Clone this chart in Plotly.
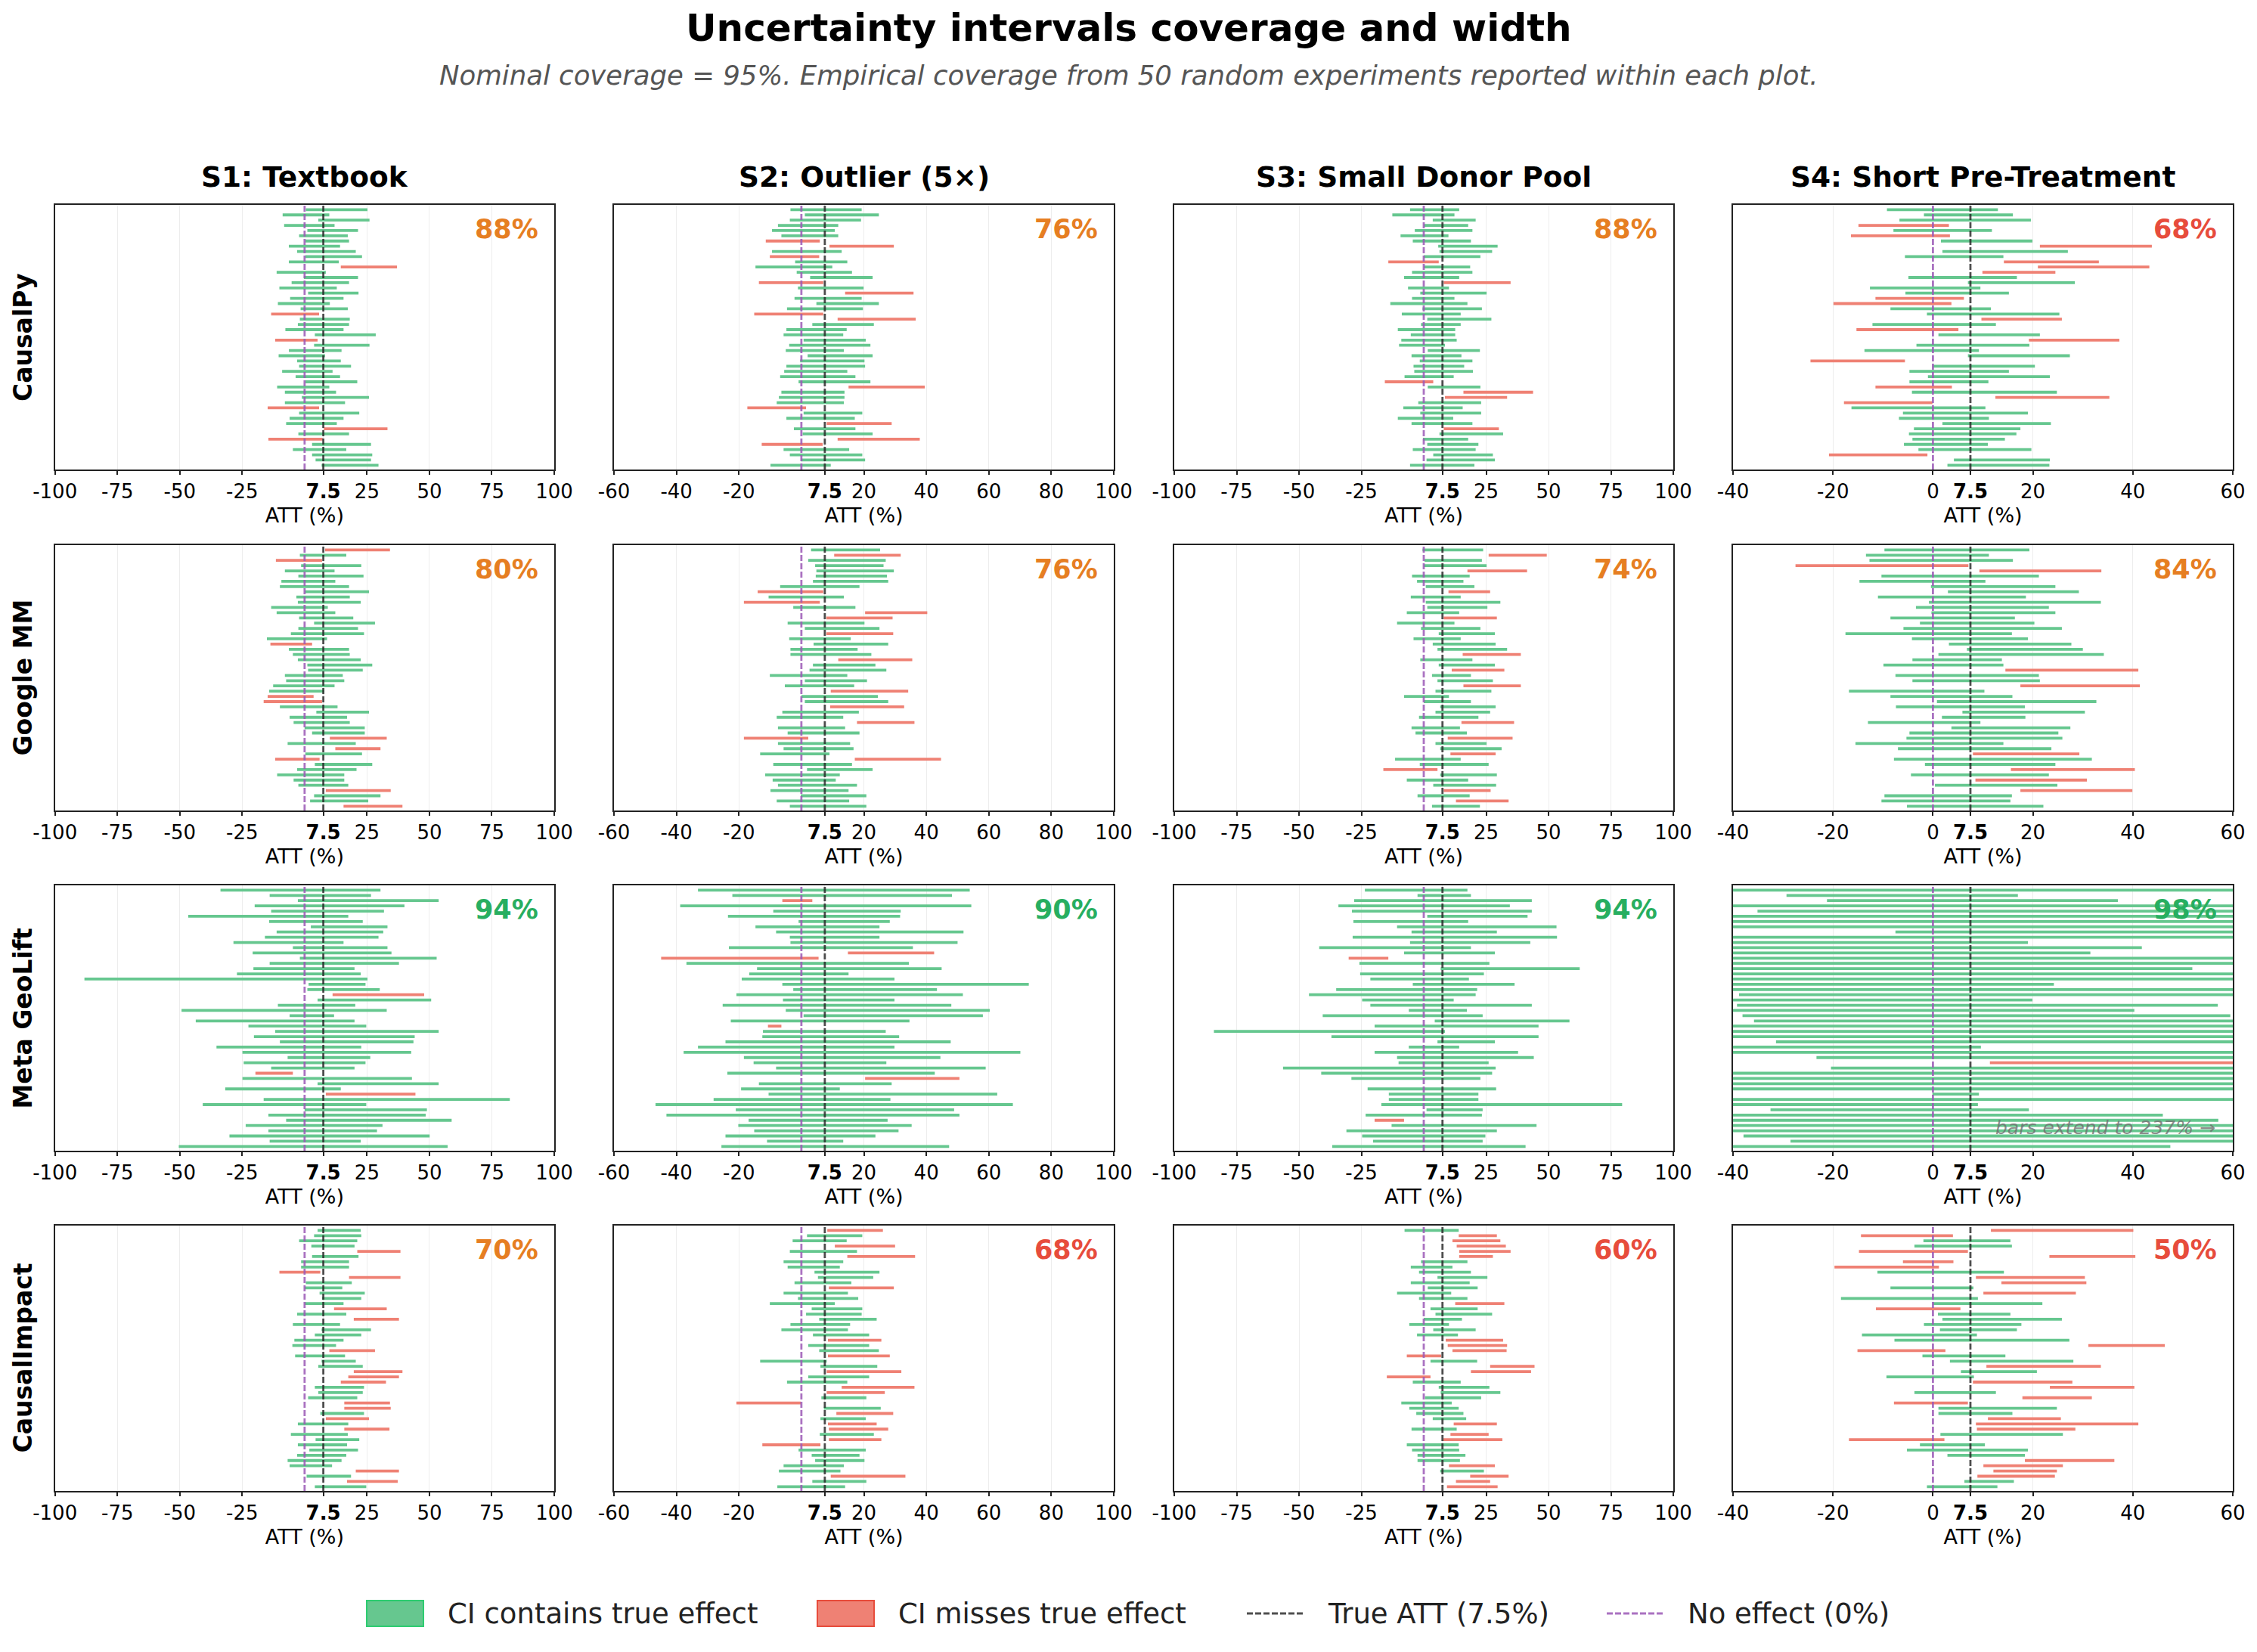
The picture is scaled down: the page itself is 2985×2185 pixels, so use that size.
import plotly.graph_objects as go

W, H = 2985, 2185
TRUE_ATT = 7.5
NO_EFFECT = 0.0

methods = ["CausalPy", "Google MM", "Meta GeoLift", "CausalImpact"]
scenarios = ["S1: Textbook", "S2: Outlier (5×)", "S3: Small Donor Pool", "S4: Short Pre-Treatment"]

# x-axis ticks per scenario
s1_ticks = [-100, -75, -50, -25, 7.5, 25, 50, 75, 100]
s2_ticks = [-60, -40, -20, 7.5, 20, 40, 60, 80, 100]
s3_ticks = [-100, -75, -50, -25, 7.5, 25, 50, 75, 100]
s4_ticks = [-40, -20, 0, 7.5, 20, 40, 60]
scenario_ticks = [s1_ticks, s2_ticks, s3_ticks, s4_ticks]
scenario_ranges = [[-100, 100], [-60, 100], [-100, 100], [-40, 60]]

# ---- CausalPy ----
causalpy_s1_lo = [0.5, -8.8, 5.5, -8.2, 1.1, -2.2, 0.3, -6.3, -3, 0.3, -6.3, 14.5, -11.2, -0.3, -5.2, -10.1, 1.4, -5.8, -10.7, -1.6, -13.4, -1.9, -2.7, -7.7, 4.1, -11.8, 3.8, -6.3, -10.4, -3, -2.2, -9, -3.6, 0.3, -11, -7.9, -1.1, -7.9, -14.8, -2.2, -6, -7.4, 7.7, -2.5, -14.5, 3, -4.7, 3, 4.4, 6.8]
causalpy_s1_hi = [25.2, 9.9, 26, 12, 21.4, 17.3, 17.8, 14.2, 20.5, 23, 13.7, 37, 8.5, 21.4, 17.8, 12.9, 21.6, 15.6, 10.1, 17.3, 5.8, 18.1, 17.8, 15.6, 28.5, 5.2, 26, 14.8, 8.2, 14.5, 18.6, 11.2, 14.2, 21.1, 9.9, 12.6, 25.8, 16.2, 5.8, 21.9, 15.6, 12.9, 33.2, 17.8, 7.2, 26.6, 16.7, 27.1, 26.6, 29.6]
causalpy_s2_lo = [-3.5, 1.1, -3.7, -7.5, -9.4, -6.4, -11.4, 9, -9.4, -10.1, -2, -14.7, -1.5, 2.8, -13.6, -1.1, 14, -2.2, 4.8, -4.6, -15.1, 11.6, 3.5, -4.8, -5.7, 0.7, -3.9, -5, 2, -0.4, -4.8, -5.5, -6.8, -0.9, 15.1, -6.4, -7.2, -7.9, -17.3, 0.7, -4.8, 8.1, -2.4, 0.4, 11.6, -12.7, -5.7, -3.7, -0.2, -9.9]
causalpy_s2_hi = [19.3, 24.8, 19.1, 11.8, 10.7, 11.8, 5.9, 29.6, 12.9, 5.7, 14.7, 9.9, 16.2, 22.8, 7.0, 19.9, 35.9, 19.3, 24.8, 19.7, 7.0, 36.6, 23.2, 14.5, 13.4, 20.6, 22.1, 13.6, 22.8, 20.2, 20.4, 14.7, 17.3, 22.1, 39.5, 13.8, 13.8, 13.6, 1.5, 19.5, 17.1, 28.9, 17.3, 22.8, 37.9, 6.8, 15.3, 19.5, 20.4, 9.4]
causalpy_s3_lo = [-5.5, -12.6, 3.6, 0, -3.6, -9.3, -4.4, 5.8, 6.3, 0, -14.2, 0, -4.7, -7.9, 8.0, -6.3, -1.4, -4.7, -13.4, -0.5, -8.8, 1.4, -1.1, -10.4, -5.2, -9, -9.9, 1.6, -4.9, -1.6, -4.1, -3.8, -7.7, -15.6, 1.6, 15.9, 8.5, -2.2, -8.2, -1.4, -10.4, -4.9, 8.0, 6.3, -0.3, 1.4, -4.4, 3.8, 1.1, -5.5]
causalpy_s3_hi = [14.2, 12.3, 20.8, 17.8, 19.5, 9.9, 18.9, 29.6, 27.4, 22.7, 6.0, 18.6, 19.5, 14.2, 34.8, 10.1, 25.2, 12.3, 17.5, 23.3, 14.8, 27.1, 14.8, 12.6, 12.6, 13.2, 8.5, 22.5, 15.1, 19.5, 16.2, 19.7, 12, 3.8, 22.7, 43.8, 33.4, 23, 15.6, 23, 11.8, 19.5, 30.1, 31.8, 17.8, 21.9, 20.8, 27.7, 28.5, 20.3]
causalpy_s4_lo = [-9.2, -1.8, -6.7, -14.9, -7.9, -16.4, 1.6, 21.4, 1.9, -5.6, 14.2, 21, 9.9, -4.9, 7.0, -12.6, -5.5, -11.5, -19.9, -8.5, -1.2, 9.7, -12.1, -15.3, 1.1, 19.2, -3.3, -13.7, 7.0, -24.5, 0, -4.7, -1, -4.7, -11.5, -4.2, 12.5, -17.8, -16.3, -6, -6.8, 1.9, -3.8, -4.8, -4.1, -5.8, -2.9, -20.8, 4.2, 2.9]
causalpy_s4_hi = [13, 16, 19.6, 3.2, 11.8, 3.4, 19.9, 43.8, 27, 14.1, 33.2, 43.3, 24.5, 16.8, 28.4, 9.5, 15.2, 6.2, 3.7, 11.6, 25.3, 25.8, 12.6, 5.1, 21.4, 37.3, 19.3, 9.2, 27.4, -5.6, 20.4, 15.2, 23.4, 11.1, 3.8, 24.8, 35.3, -0.1, 10.5, 19, 11.2, 23.6, 17.5, 16.7, 14.4, 11, 19.7, -1.1, 23.4, 23.3]

# ---- Google MM ----
googlemm_s1_lo = [8.2, -1.9, -11.5, -1.4, -7.9, -2.5, -9.3, -9.9, 0, -3.3, -2.7, -13.4, -11.2, -2.2, 3.8, -2.5, -5.5, -15.1, -13.7, -6.3, -4.7, -2.7, 1.1, 1.4, -7.9, -7.4, -12.6, -14.2, -14.8, -16.4, -9.9, 4.7, -6, -4.4, 0, 3, 10.1, -6.8, 12.3, 0.3, -11.8, 4.1, -3, -11, -4.4, -2.5, 8.5, 3.8, 2.2, 15.6]
googlemm_s1_hi = [34.2, 16.7, 7.0, 22.7, 12, 23.6, 12.3, 17.8, 25.8, 18.1, 22.5, 9.3, 12.3, 19.5, 28.2, 21.4, 23.8, 9, 3, 17.8, 18.1, 22.5, 27.1, 23.3, 15.3, 15.9, 12, 7.9, 3.6, 7.0, 13.2, 25.8, 17, 18.1, 24.1, 24.1, 32.9, 20.5, 30.4, 23, 6.0, 27.1, 20.8, 15.9, 15.9, 17.5, 34.5, 30.4, 25.5, 39.2]
googlemm_s2_lo = [3.1, 10.5, 2.2, 4.4, 4.8, 4.6, 3.7, -6.8, -14, -10.5, -18.4, -2.6, 20.4, 8.0, -4.4, 1.1, 8.0, -3.9, 3.9, -3.5, -3.5, 11.8, 3.7, 2.6, -10.1, 1.1, -5.3, 9.4, 0, 1.1, 9.2, -6.1, -7.9, 17.8, -7.5, -4.4, -18.4, -7.5, -5.7, -13.2, 17.1, -9, 1.8, -11.6, -9.2, -7.5, -9.9, -0.2, -7.9, -3.7]
googlemm_s2_hi = [25.2, 31.8, 27, 26.3, 29.6, 27.4, 27.8, 18.6, 7.0, 13.6, 5.9, 17.3, 40.3, 29.2, 20.2, 25, 29.4, 15.8, 27.8, 18, 22.4, 35.5, 23.7, 27.2, 14.7, 21, 16.9, 34.2, 24.5, 27.8, 32.9, 18.4, 13.4, 36.2, 14, 18.6, 2.2, 15.6, 16.7, 9, 44.7, 16.2, 22.8, 12.3, 11, 17.8, 15.1, 20.8, 15.3, 20.8]
googlemm_s3_lo = [-0.5, 26, 0.3, 0, 17.5, -4.7, -2.7, 0.8, 9.9, -5.2, 0.8, 1.4, -6.8, 8.0, -10.7, -1.1, 6, -4.1, 3.6, 5.5, 15.6, -1.4, 6, 11.2, 3.3, 5.5, 15.9, 4.7, -7.9, 0, 6.6, 4.7, -1.9, 15.1, -4.9, -3.3, 9.6, 4.7, 6.6, 10.7, -11.5, -1.6, -16.2, 6.6, -6.8, 3.8, 8.0, -2.5, 12.9, 3.3]
googlemm_s3_hi = [23.8, 49.3, 23.3, 25.2, 41.4, 18.4, 15.9, 20.3, 26.6, 14.8, 30.7, 25.5, 14.2, 29.3, 12.3, 22.7, 28.5, 14.8, 28.8, 33.4, 38.9, 19.5, 28.5, 32.3, 18.9, 27.7, 38.9, 27.1, 10.1, 18.9, 28.8, 26.6, 21.9, 36.2, 14.5, 17.3, 35.6, 25.2, 31.2, 28.8, 14.8, 26, 5.5, 29.3, 17.8, 29, 26.8, 18.4, 34, 22.5]
googlemm_s4_lo = [-9.7, -13.4, -12.7, -27.5, 9.3, -10.3, -14.7, -0.4, 3, -11, -0.8, -3.4, -0.3, -8.5, -2.6, -5.9, -17.5, -4.2, 3.2, 6.8, 1.1, -4.1, -9.9, 14.5, -7.5, -4.1, 17.5, -16.8, -8.5, 0.8, -7.4, 5.9, 1.8, -13, 3.7, -4.7, -5.3, -15.5, -7, 8.0, -7.8, -1.6, 15.6, -4.4, 8.5, 0.4, 17.5, -9.7, -10.3, -5.2]
googlemm_s4_hi = [19.3, 11.2, 16, 7.1, 33.7, 21.2, 10.5, 24.5, 29.2, 18.6, 33.6, 23.2, 24.5, 16.4, 20.3, 25.8, 15.8, 19, 27.7, 30, 34.2, 13.8, 14.1, 41.1, 21.2, 21.4, 41.4, 10.3, 15.9, 32.7, 18.4, 30.4, 18.5, 9.5, 27.5, 25.1, 25.9, 14.1, 23.7, 29.3, 31.8, 24.5, 40.4, 23.2, 30.8, 24.9, 39.9, 15.8, 15.5, 22.1]

# ---- Meta GeoLift ----
meta_s1_lo = [-33.7, -14, -2.7, -20, -13.4, -46.6, -14.2, 2.5, -11.2, -15.9, -28.5, -4.7, -20.8, -1.9, -14, -20.5, -27.1, -88.2, 1.6, 1.1, 11.2, 5.2, -10.7, -49.3, -6, -43.6, -22.5, -11.8, -20.3, -9.9, -35.3, -24.9, -6.8, -24.4, -13.4, -19.7, -24.9, 5.2, -31.8, 8.5, -16.4, -40.8, 0, -14.5, -7.4, -23.6, -14.5, -30.1, -14, -50.4]
meta_s1_hi = [30.4, 26.6, 53.7, 40, 31.8, 17.5, 23.3, 33.2, 31.5, 29.6, 15.6, 33.2, 34.8, 52.9, 37.8, 20, 22.5, 25.2, 24.4, 30.1, 47.9, 50.7, 20.3, 32.9, 11.8, 20, 24.7, 53.7, 44.1, 43.6, 22.7, 42.7, 26.3, 24.4, 20, -4.7, 43, 53.7, 14.5, 44.4, 82.2, 24.7, 49, 48.5, 58.9, 31.2, 29, 50.1, 22.5, 57.3]
meta_s2_lo = [-33.1, -22.1, -6.1, -38.8, -9, -23.5, -0.9, -14.7, -8.1, -3.7, -3.5, -23.2, 14.9, -44.9, -36.8, -14.2, -16.7, -19.1, -6.1, -2.6, -20.8, -5.9, -25.2, -5, 0.7, -22.6, -10.7, -12.3, -12.5, -24.3, -33.1, -37.7, -18.4, -15.3, -8.1, -23.7, 20.4, -13.6, -19.3, -10.5, -28.1, -46.7, -21, -43.2, -16.9, -20.2, -15.1, -24.3, -11, -25.6]
meta_s2_hi = [53.9, 48.2, 3.5, 54.4, 31.8, 31.6, 28.3, 25, 51.9, 25, 50, 35.7, 42.5, 5.5, 34.4, 44.9, 15.1, 29.8, 72.8, 43.4, 51.7, 29.8, 48, 60.3, 58.1, 34.6, -6.4, 27, 31.3, 47.8, 29.8, 70.1, 44.5, 27.2, 59, 42.7, 50.6, 28.9, 12.3, 62.7, 28.5, 67.7, 48.9, 50.6, 27.6, 35.3, 31.1, 23.7, 13.4, 47.3]
meta_s3_lo = [-23.6, -2.5, -27.9, -34.2, -28.8, 1.4, -28.2, -10.7, -4.9, -28.5, -5.5, -41.9, -7.9, -30.1, -25.8, 6.8, -25.5, -21.4, -4.4, -35.1, -46, -24.7, -21.4, -6, -40.5, 4.4, -19.7, -84.1, -37, 5.5, -6, -19.7, -10.7, -10.1, -56.4, -41.1, -29, -135, -22.5, -14, -14, -17, 1.1, -23.3, -19.7, -12.9, -31, -24.7, -20.3, -36.7]
meta_s3_hi = [17.5, 18.9, 43.3, 34.5, 43.3, 41.6, 17.8, 53.2, 29.3, 53.4, 42.7, 18.9, 28.5, -14.2, 26.3, 62.5, 24.1, 18.1, 36.4, 21.4, 20.8, 12, 43.3, 17.3, 23.6, 58.4, 46, 8.5, 46, 28.5, 14.2, 37.8, 44.1, 26, 28.8, 27.4, 22.7, -110, 29, 21.9, 21.9, 79.5, 23.6, 23.3, -7.9, 45.2, 29.3, 24.7, 23.6, 40.8]
meta_s4_lo = [-95, -29.3, -21.2, -60, -35.1, -110, -80, -130, -7.5, -100, -55, -70, -45, -120, -90, -60, -140, -100, -50, -85, -38.8, -48, -39.2, -65, -38.1, -35.8, -120, -95, -150, -31.4, -42, -110, -23.3, 11.4, -20.4, -130, -90, -105, -75, -0.1, -115, -45, -32.5, -55, -70, -125, -100, -37.9, -28.5, -60]
meta_s4_hi = [150, 17, 37, 70, 120, 160, 140, 190, 110, 180, 19, 41.8, 31.5, 170, 130, 51.9, 200, 160, 24.2, 140, 110, 19.9, 57, 40.3, 59.5, 95, 175, 150, 237, 100, 9.6, 160, 85, 120, 90, 185, 145, 155, 120, 9.2, 165, 9, 19.2, 46, 57.1, 180, 150, 95, 110, 47.5]

# ---- CausalImpact ----
causalimpact_s1_lo = [5.2, 3.8, -2.2, 2.7, 21.1, 3, -1.4, -1.4, -10.1, 17.8, 0.5, 0, 6, 7.0, 0, 11.8, -3, 19.7, -4.7, 6.8, 4.1, -4.1, -4.9, 9.9, -3.8, 6.8, 5.5, 19.7, 17.5, 14.5, 4.1, 5.5, 1.4, 15.9, 15.9, 6.3, 8.5, -2.7, 15.9, -5.5, 4.4, -2.7, 1.9, -3, -6.8, -6, 20.5, 0.8, 17, 4.1]
causalimpact_s1_hi = [22.5, 22.7, 21.1, 20, 38.4, 21.6, 17.8, 17.8, 6.3, 38.4, 18.9, 15.1, 24.1, 22.7, 15.6, 32.9, 16.7, 37.8, 14.2, 26.6, 22.7, 15.6, 12.6, 28.2, 16.2, 20.5, 23.3, 39.2, 37.8, 32.6, 23.8, 23.3, 21.1, 34.2, 34.5, 23.8, 25.8, 17.5, 34, 17.3, 21.9, 17, 21.4, 16.7, 14.8, 11, 37.8, 18.6, 37.3, 24.7]
causalimpact_s2_lo = [8.3, 1.8, -2.8, 10.7, -3.7, 14.7, -5.7, -4.4, 4.2, 5.3, -2.2, 8.8, -5.7, -1.1, -10.1, 3.3, 1.5, 5.7, -3.5, -6.4, 3.7, 8.5, 2.2, 5.7, 8.5, -13.2, 6.1, 8.1, 2.2, -4.6, 12.9, 8.1, 6.4, -20.8, 7.2, 11.2, 6.1, 8.5, 8.8, 5.9, 8.8, -12.5, -0.9, 3.3, 4.4, -5.7, -7.2, 9.4, 3.5, -7.7]
causalimpact_s2_hi = [26.1, 19.5, 14.5, 30, 17.8, 36.4, 13.4, 12.3, 25, 23, 16, 29.6, 14.9, 18.2, 10.7, 19.5, 19.3, 24.1, 15.6, 14.9, 21.7, 25.6, 21.7, 24.8, 28.3, 8.1, 24.3, 32, 21.7, 14.7, 36.2, 26.7, 20.8, -0.2, 25.4, 29.4, 20.6, 24.1, 27.8, 23.2, 25.6, 6.1, 20.6, 18.6, 20.2, 13.6, 12.5, 33.3, 20.8, 14]
causalimpact_s3_lo = [-7.7, 14, 11.5, 13.2, 14.2, 14.2, -1.1, -5.2, -1.9, 5.5, -5.2, 1.6, -10.7, -1.9, 12.6, 2.7, 4.7, 0, -5.8, 3.8, -2.7, 8.8, 9.6, 11.5, -6.8, 2.7, 26.6, 18.9, -14.8, -4.4, 6, 6.8, 0.5, -9, -5.8, -3, 3.6, 12, -4.9, 10.7, 7.9, -6.8, -4.7, -2.5, -2.5, 10.1, 6.6, 18.6, 12.9, 9.3]
causalimpact_s3_hi = [14, 29.3, 30.7, 32.9, 34.8, 27.7, 17.5, 11.5, 18.9, 25.5, 18.4, 21.6, 11, 17.5, 32.3, 21.6, 27.4, 15.3, 10.1, 20.8, 13.7, 31.8, 33.4, 33.2, 7.0, 21.4, 44.4, 43, 2.7, 14.8, 26.3, 30.7, 23, 11.2, 14, 15.9, 17, 29.3, 13.2, 26, 31.5, 14, 14.2, 16.7, 14.5, 28.5, 24.1, 34, 26.6, 29.6]
causalimpact_s4_lo = [11.6, -14.4, -1.9, -3.7, -14.8, 23.3, -6, -19.7, -11.1, 8.6, 13.7, -8.5, 10.1, -18.4, 0, -11.4, 1, 1.9, -1.8, 1.4, -14.2, -7.7, 31.1, -15.1, -2.1, 3.4, 10.7, 5.6, -9.3, 8.0, 23.4, -3.7, 17.9, -7.8, 1.1, 1.1, 11, 8.6, 8.8, 1.5, -16.8, -2.6, -5.2, 2.9, 18.4, 10.1, 12.1, 8.9, 6.3, -1.2]
causalimpact_s4_hi = [40.1, 4, 15.5, 15.8, 7.0, 40.5, 4.1, 1.2, 14.2, 30.4, 30.7, 8.1, 28.6, 9, 21.9, 5.5, 15.5, 25.8, 17.7, 16.8, 8.8, 27.3, 46.4, 2.5, 14.5, 28.1, 33.6, 20.8, 8.2, 27.9, 40.3, 12.6, 31.8, 7.0, 24.8, 15.9, 25.6, 41.1, 28.5, 26, 2.3, 10.4, 19, 18.4, 36.3, 26, 24.8, 24.4, 16.2, 12.9]

panel_data = [
    [(causalpy_s1_lo, causalpy_s1_hi), (causalpy_s2_lo, causalpy_s2_hi), (causalpy_s3_lo, causalpy_s3_hi), (causalpy_s4_lo, causalpy_s4_hi)],
    [(googlemm_s1_lo, googlemm_s1_hi), (googlemm_s2_lo, googlemm_s2_hi), (googlemm_s3_lo, googlemm_s3_hi), (googlemm_s4_lo, googlemm_s4_hi)],
    [(meta_s1_lo, meta_s1_hi), (meta_s2_lo, meta_s2_hi), (meta_s3_lo, meta_s3_hi), (meta_s4_lo, meta_s4_hi)],
    [(causalimpact_s1_lo, causalimpact_s1_hi), (causalimpact_s2_lo, causalimpact_s2_hi), (causalimpact_s3_lo, causalimpact_s3_hi), (causalimpact_s4_lo, causalimpact_s4_hi)],
]

# ---- styling ----
GREEN_BAR = "#66c78f"
RED_BAR = "#ef8174"
COV_GREEN = "#27ae60"
COV_ORANGE = "#e67e22"
COV_RED = "#e74c3c"
ATT_LINE = "rgba(35,35,35,0.8)"
ZERO_LINE = "rgba(155,89,182,0.85)"
AX = "#222222"
FONT = "DejaVu Sans"

col_px = [(72.7, 733), (812, 1473), (1553, 2213), (2292, 2953)]
row_px = [(271, 621), (721, 1072), (1171, 1522), (1621, 1972)]


def fx(p):
    return p / W


def fy(p):
    return 1 - p / H


fig = go.Figure()
layout = dict(
    width=W, height=H, margin=dict(l=0, r=0, t=0, b=0, autoexpand=False),
    paper_bgcolor="white", plot_bgcolor="white",
    font=dict(family=FONT, color="black"),
    showlegend=False,
)
shapes = []
annotations = []

n_rows = len(panel_data[0][0][0])

for r in range(4):
    for c in range(4):
        n = r * 4 + c + 1
        xname = "x" if n == 1 else f"x{n}"
        yname = "y" if n == 1 else f"y{n}"
        xkey = "xaxis" if n == 1 else f"xaxis{n}"
        ykey = "yaxis" if n == 1 else f"yaxis{n}"
        lo, hi = panel_data[r][c]
        gx, gy, rx, ry = [], [], [], []
        covered = 0
        for i, (a, b) in enumerate(zip(lo, hi)):
            if a <= TRUE_ATT <= b:
                covered += 1
                gx += [a, b, None]
                gy += [i, i, None]
            else:
                rx += [a, b, None]
                ry += [i, i, None]
        for xs, ys, col in ((gx, gy, GREEN_BAR), (rx, ry, RED_BAR)):
            fig.add_trace(go.Scatter(
                x=xs, y=ys, mode="lines", xaxis=xname, yaxis=yname,
                line=dict(color=col, width=3.8), hoverinfo="skip", showlegend=False,
            ))
        ticks = scenario_ticks[c]
        ticktext = ["<b>7.5</b>" if v == 7.5 else f"{v:g}" for v in ticks]
        layout[xkey] = dict(
            domain=[fx(col_px[c][0]), fx(col_px[c][1])], anchor=yname,
            range=scenario_ranges[c], tickvals=ticks, ticktext=ticktext,
            tickfont=dict(size=26, color="black"), ticks="outside", ticklen=5,
            tickwidth=2, tickcolor=AX, showline=True, linecolor=AX, linewidth=2.2,
            mirror=True, showgrid=True, gridcolor="rgba(0,0,0,0.07)", gridwidth=1.2,
            zeroline=False, automargin=False,
            title=dict(text="ATT (%)", font=dict(size=27, color="black"), standoff=8),
        )
        layout[ykey] = dict(
            domain=[fy(row_px[r][1]), fy(row_px[r][0])], anchor=xname,
            range=[n_rows - 1 + 0.82, -0.92], showticklabels=False, ticks="",
            showgrid=False, zeroline=False, showline=True, linecolor=AX,
            linewidth=2.2, mirror=True, automargin=False,
        )
        for xv, colr in ((TRUE_ATT, ATT_LINE), (NO_EFFECT, ZERO_LINE)):
            shapes.append(dict(
                type="line", xref=xname, yref=f"{yname} domain", x0=xv, x1=xv,
                y0=0, y1=1, layer="above",
                line=dict(color=colr, width=2.8, dash="8px,3px"),
            ))
        cov = 100.0 * covered / len(lo)
        ccol = COV_GREEN if cov >= 90 else (COV_ORANGE if cov >= 70 else COV_RED)
        annotations.append(dict(
            text=f"<b>{cov:.0f}%</b>", xref=f"{xname} domain", yref=f"{yname} domain",
            x=0.971, y=0.909, xanchor="right", yanchor="middle", showarrow=False,
            font=dict(size=35, color=ccol),
        ))
        if r == 2 and c == 3:
            max_hi = max(hi)
            annotations.append(dict(
                text=f"<i>bars extend to {max_hi:.0f}% →</i>", xref=f"{xname} domain",
                yref=f"{yname} domain", x=0.968, y=0.088, xanchor="right",
                yanchor="middle", showarrow=False,
                font=dict(size=25, color="rgba(110,110,110,0.8)"),
            ))

# column titles
for c, s in enumerate(scenarios):
    annotations.append(dict(
        text=f"<b>{s}</b>", xref="paper", yref="paper",
        x=fx((col_px[c][0] + col_px[c][1]) / 2), y=fy(234),
        xanchor="center", yanchor="middle", showarrow=False,
        font=dict(size=37.5, color="black"),
    ))
# row labels
for r, m in enumerate(methods):
    annotations.append(dict(
        text=f"<b>{m}</b>", xref="paper", yref="paper",
        x=fx(30), y=fy((row_px[r][0] + row_px[r][1]) / 2), textangle=-90,
        xanchor="center", yanchor="middle", showarrow=False,
        font=dict(size=33, color="black"),
    ))
# title and subtitle
annotations.append(dict(
    text="<b>Uncertainty intervals coverage and width</b>", xref="paper", yref="paper",
    x=0.5, y=fy(37), xanchor="center", yanchor="middle", showarrow=False,
    font=dict(size=50, color="black"),
))
annotations.append(dict(
    text="<i>Nominal coverage = 95%. Empirical coverage from 50 random experiments reported within each plot.</i>",
    xref="paper", yref="paper", x=0.5, y=fy(99), xanchor="center", yanchor="middle",
    showarrow=False, font=dict(size=35.5, color="#555555"),
))

# legend (manual, bottom centre)
leg_y = 2134
legend_items = [
    ("patch", GREEN_BAR, "#2ecc71", 485, "CI contains true effect"),
    ("patch", RED_BAR, "#e74c3c", 1081, "CI misses true effect"),
    ("line", ATT_LINE, None, 1649, "True ATT (7.5%)"),
    ("line", ZERO_LINE, None, 2125, "No effect (0%)"),
]
for kind, col, edge, x0, label in legend_items:
    if kind == "patch":
        shapes.append(dict(
            type="rect", xref="paper", yref="paper",
            x0=fx(x0), x1=fx(x0 + 75), y0=fy(leg_y + 17), y1=fy(leg_y - 17),
            fillcolor=col, line=dict(color=edge, width=2),
        ))
    else:
        shapes.append(dict(
            type="line", xref="paper", yref="paper",
            x0=fx(x0), x1=fx(x0 + 75), y0=fy(leg_y), y1=fy(leg_y),
            line=dict(color=col, width=2.8, dash="8px,3px"),
        ))
    annotations.append(dict(
        text=label, xref="paper", yref="paper", x=fx(x0 + 105), y=fy(leg_y),
        xanchor="left", yanchor="middle", showarrow=False,
        font=dict(size=37, color="#222222"),
    ))

layout["shapes"] = shapes
layout["annotations"] = annotations
fig.update_layout(**layout)
fig.write_html("out.html")
